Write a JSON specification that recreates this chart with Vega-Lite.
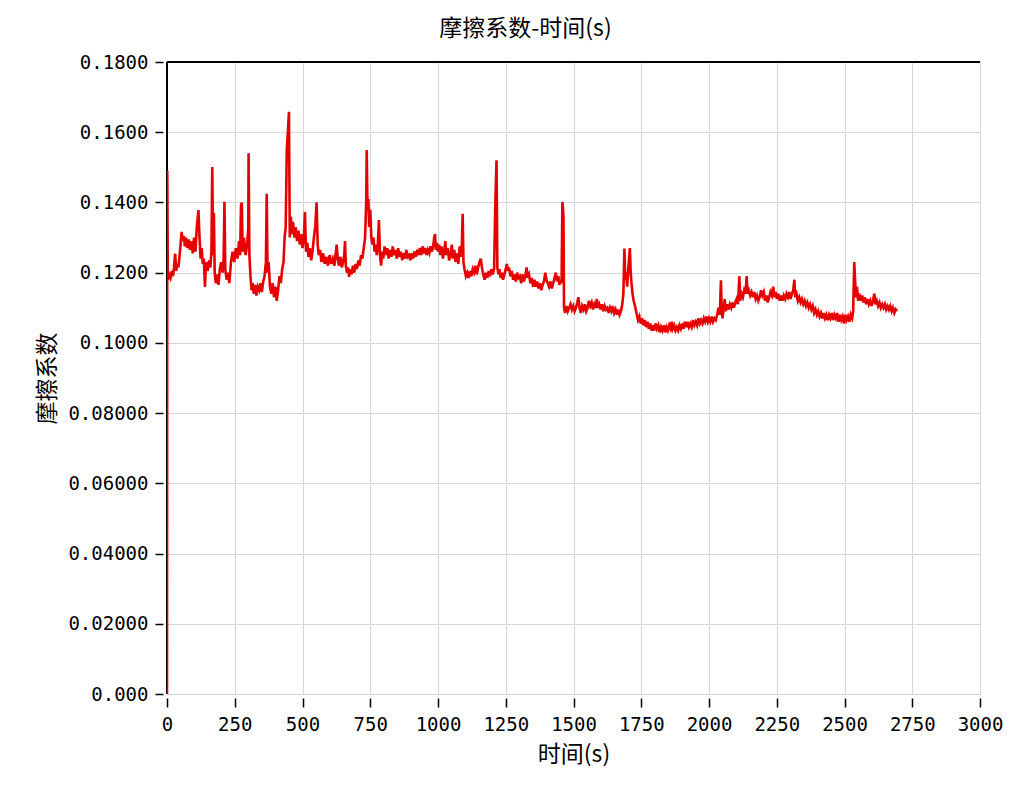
{
  "$schema": "https://vega.github.io/schema/vega-lite/v6.json",
  "autosize": {"type": "none"},
  "padding": {"left": 167, "top": 62, "right": 50, "bottom": 92},
  "width": 813,
  "height": 632,
  "background": "white",
  "title": {
    "text": "摩擦系数-时间(s)",
    "font": "Noto Sans CJK SC",
    "fontSize": 23,
    "fontWeight": "normal",
    "color": "black",
    "anchor": "middle",
    "dx": -48,
    "offset": 12
  },
  "data": {
    "values": [
      {"t": 0, "f": 0}, {"t": 1, "f": 0.149}, {"t": 3, "f": 0.118}, {"t": 8, "f": 0.1195}, {"t": 13, "f": 0.1185},
      {"t": 18, "f": 0.1205}, {"t": 22, "f": 0.119}, {"t": 26, "f": 0.1215}, {"t": 30, "f": 0.1254}, {"t": 34, "f": 0.1205},
      {"t": 38, "f": 0.1225}, {"t": 42, "f": 0.1215}, {"t": 46, "f": 0.1245}, {"t": 50, "f": 0.128}, {"t": 54, "f": 0.1316},
      {"t": 58, "f": 0.129}, {"t": 62, "f": 0.1305}, {"t": 66, "f": 0.1275}, {"t": 70, "f": 0.13}, {"t": 75, "f": 0.127},
      {"t": 80, "f": 0.1295}, {"t": 85, "f": 0.1265}, {"t": 90, "f": 0.129}, {"t": 95, "f": 0.1255}, {"t": 100, "f": 0.13},
      {"t": 105, "f": 0.126}, {"t": 110, "f": 0.133}, {"t": 116, "f": 0.1378}, {"t": 120, "f": 0.13}, {"t": 124, "f": 0.124},
      {"t": 128, "f": 0.127}, {"t": 132, "f": 0.1225}, {"t": 136, "f": 0.124}, {"t": 140, "f": 0.1159}, {"t": 144, "f": 0.123},
      {"t": 150, "f": 0.1205}, {"t": 155, "f": 0.1235}, {"t": 160, "f": 0.1215}, {"t": 164, "f": 0.126}, {"t": 167, "f": 0.1501},
      {"t": 170, "f": 0.125}, {"t": 173, "f": 0.137}, {"t": 176, "f": 0.12}, {"t": 180, "f": 0.117}, {"t": 185, "f": 0.1195},
      {"t": 190, "f": 0.1165}, {"t": 195, "f": 0.121}, {"t": 200, "f": 0.123}, {"t": 205, "f": 0.12}, {"t": 209, "f": 0.124},
      {"t": 212, "f": 0.1402}, {"t": 215, "f": 0.121}, {"t": 220, "f": 0.118}, {"t": 225, "f": 0.12}, {"t": 230, "f": 0.117},
      {"t": 236, "f": 0.123}, {"t": 242, "f": 0.126}, {"t": 248, "f": 0.123}, {"t": 254, "f": 0.127}, {"t": 260, "f": 0.124},
      {"t": 266, "f": 0.129}, {"t": 270, "f": 0.125}, {"t": 273, "f": 0.139}, {"t": 276, "f": 0.14}, {"t": 279, "f": 0.126},
      {"t": 284, "f": 0.13}, {"t": 290, "f": 0.125}, {"t": 296, "f": 0.128}, {"t": 300, "f": 0.133}, {"t": 301, "f": 0.154},
      {"t": 304, "f": 0.125}, {"t": 308, "f": 0.119}, {"t": 312, "f": 0.115}, {"t": 316, "f": 0.117}, {"t": 320, "f": 0.114},
      {"t": 325, "f": 0.1165}, {"t": 330, "f": 0.1135}, {"t": 335, "f": 0.116}, {"t": 340, "f": 0.115}, {"t": 345, "f": 0.117},
      {"t": 350, "f": 0.1145}, {"t": 355, "f": 0.1175}, {"t": 360, "f": 0.119}, {"t": 365, "f": 0.123}, {"t": 368, "f": 0.1425},
      {"t": 371, "f": 0.12}, {"t": 375, "f": 0.123}, {"t": 380, "f": 0.116}, {"t": 385, "f": 0.114}, {"t": 390, "f": 0.117},
      {"t": 395, "f": 0.113}, {"t": 400, "f": 0.116}, {"t": 405, "f": 0.112}, {"t": 410, "f": 0.115}, {"t": 415, "f": 0.119},
      {"t": 420, "f": 0.117}, {"t": 425, "f": 0.121}, {"t": 430, "f": 0.123}, {"t": 434, "f": 0.13}, {"t": 438, "f": 0.133},
      {"t": 442, "f": 0.155}, {"t": 446, "f": 0.16}, {"t": 450, "f": 0.1658}, {"t": 453, "f": 0.13}, {"t": 457, "f": 0.136},
      {"t": 461, "f": 0.131}, {"t": 465, "f": 0.1345}, {"t": 470, "f": 0.13}, {"t": 475, "f": 0.133}, {"t": 480, "f": 0.129},
      {"t": 485, "f": 0.132}, {"t": 490, "f": 0.128}, {"t": 495, "f": 0.131}, {"t": 500, "f": 0.127}, {"t": 505, "f": 0.13},
      {"t": 509, "f": 0.1373}, {"t": 513, "f": 0.126}, {"t": 518, "f": 0.1285}, {"t": 522, "f": 0.1245}, {"t": 527, "f": 0.127},
      {"t": 532, "f": 0.1235}, {"t": 537, "f": 0.126}, {"t": 542, "f": 0.13}, {"t": 547, "f": 0.133}, {"t": 552, "f": 0.14},
      {"t": 556, "f": 0.128}, {"t": 560, "f": 0.125}, {"t": 565, "f": 0.1265}, {"t": 570, "f": 0.123}, {"t": 576, "f": 0.1255},
      {"t": 582, "f": 0.1225}, {"t": 588, "f": 0.1245}, {"t": 594, "f": 0.122}, {"t": 600, "f": 0.125}, {"t": 606, "f": 0.1225},
      {"t": 612, "f": 0.124}, {"t": 618, "f": 0.122}, {"t": 622, "f": 0.125}, {"t": 626, "f": 0.128}, {"t": 630, "f": 0.124},
      {"t": 635, "f": 0.122}, {"t": 640, "f": 0.1245}, {"t": 645, "f": 0.1215}, {"t": 650, "f": 0.123}, {"t": 654, "f": 0.125},
      {"t": 657, "f": 0.129}, {"t": 660, "f": 0.122}, {"t": 664, "f": 0.12}, {"t": 668, "f": 0.1215}, {"t": 672, "f": 0.1188},
      {"t": 676, "f": 0.121}, {"t": 681, "f": 0.1195}, {"t": 686, "f": 0.122}, {"t": 691, "f": 0.12}, {"t": 696, "f": 0.1225},
      {"t": 701, "f": 0.121}, {"t": 706, "f": 0.1235}, {"t": 711, "f": 0.122}, {"t": 716, "f": 0.125}, {"t": 721, "f": 0.124},
      {"t": 726, "f": 0.127}, {"t": 731, "f": 0.13}, {"t": 735, "f": 0.14}, {"t": 737, "f": 0.1549}, {"t": 740, "f": 0.138},
      {"t": 743, "f": 0.141}, {"t": 746, "f": 0.133}, {"t": 750, "f": 0.138}, {"t": 754, "f": 0.13}, {"t": 758, "f": 0.128},
      {"t": 762, "f": 0.13}, {"t": 766, "f": 0.126}, {"t": 770, "f": 0.128}, {"t": 774, "f": 0.125}, {"t": 778, "f": 0.128},
      {"t": 782, "f": 0.135}, {"t": 786, "f": 0.125}, {"t": 790, "f": 0.122}, {"t": 794, "f": 0.126}, {"t": 798, "f": 0.124},
      {"t": 803, "f": 0.1275}, {"t": 808, "f": 0.125}, {"t": 813, "f": 0.127}, {"t": 818, "f": 0.124}, {"t": 823, "f": 0.1265},
      {"t": 828, "f": 0.1245}, {"t": 833, "f": 0.1275}, {"t": 838, "f": 0.125}, {"t": 843, "f": 0.1265}, {"t": 848, "f": 0.124},
      {"t": 853, "f": 0.127}, {"t": 858, "f": 0.1245}, {"t": 863, "f": 0.126}, {"t": 868, "f": 0.1235}, {"t": 873, "f": 0.1255},
      {"t": 878, "f": 0.124}, {"t": 883, "f": 0.1265}, {"t": 888, "f": 0.1245}, {"t": 893, "f": 0.125}, {"t": 898, "f": 0.1235},
      {"t": 903, "f": 0.1255}, {"t": 908, "f": 0.124}, {"t": 913, "f": 0.126}, {"t": 918, "f": 0.1245}, {"t": 923, "f": 0.1265},
      {"t": 928, "f": 0.125}, {"t": 933, "f": 0.127}, {"t": 938, "f": 0.125}, {"t": 943, "f": 0.1275}, {"t": 948, "f": 0.1255},
      {"t": 953, "f": 0.127}, {"t": 958, "f": 0.125}, {"t": 963, "f": 0.1265}, {"t": 968, "f": 0.1255}, {"t": 973, "f": 0.1275},
      {"t": 978, "f": 0.126}, {"t": 983, "f": 0.128}, {"t": 986, "f": 0.13}, {"t": 989, "f": 0.131}, {"t": 992, "f": 0.1265},
      {"t": 996, "f": 0.1285}, {"t": 1000, "f": 0.126}, {"t": 1004, "f": 0.128}, {"t": 1008, "f": 0.125}, {"t": 1013, "f": 0.1275},
      {"t": 1018, "f": 0.124}, {"t": 1023, "f": 0.126}, {"t": 1027, "f": 0.129}, {"t": 1031, "f": 0.125}, {"t": 1036, "f": 0.127},
      {"t": 1041, "f": 0.1235}, {"t": 1046, "f": 0.125}, {"t": 1051, "f": 0.128}, {"t": 1055, "f": 0.124}, {"t": 1060, "f": 0.1265},
      {"t": 1065, "f": 0.123}, {"t": 1070, "f": 0.1255}, {"t": 1075, "f": 0.1225}, {"t": 1080, "f": 0.1275}, {"t": 1085, "f": 0.1245},
      {"t": 1088, "f": 0.128}, {"t": 1091, "f": 0.1368}, {"t": 1094, "f": 0.123}, {"t": 1098, "f": 0.121}, {"t": 1103, "f": 0.119},
      {"t": 1108, "f": 0.12}, {"t": 1113, "f": 0.1185}, {"t": 1118, "f": 0.1205}, {"t": 1123, "f": 0.119}, {"t": 1128, "f": 0.121},
      {"t": 1133, "f": 0.12}, {"t": 1138, "f": 0.122}, {"t": 1143, "f": 0.1195}, {"t": 1148, "f": 0.1215}, {"t": 1153, "f": 0.123},
      {"t": 1158, "f": 0.124}, {"t": 1162, "f": 0.1215}, {"t": 1167, "f": 0.1195}, {"t": 1172, "f": 0.118}, {"t": 1177, "f": 0.12},
      {"t": 1182, "f": 0.1185}, {"t": 1187, "f": 0.1205}, {"t": 1192, "f": 0.119}, {"t": 1197, "f": 0.121}, {"t": 1202, "f": 0.1195},
      {"t": 1207, "f": 0.121}, {"t": 1212, "f": 0.141}, {"t": 1216, "f": 0.152}, {"t": 1219, "f": 0.1215}, {"t": 1223, "f": 0.1195},
      {"t": 1227, "f": 0.121}, {"t": 1231, "f": 0.1185}, {"t": 1236, "f": 0.12}, {"t": 1240, "f": 0.118}, {"t": 1245, "f": 0.1195},
      {"t": 1250, "f": 0.121}, {"t": 1254, "f": 0.1225}, {"t": 1258, "f": 0.1205}, {"t": 1262, "f": 0.1215}, {"t": 1267, "f": 0.119},
      {"t": 1272, "f": 0.1205}, {"t": 1277, "f": 0.118}, {"t": 1282, "f": 0.1195}, {"t": 1287, "f": 0.1175}, {"t": 1292, "f": 0.12},
      {"t": 1297, "f": 0.1185}, {"t": 1302, "f": 0.119}, {"t": 1307, "f": 0.117}, {"t": 1312, "f": 0.1195}, {"t": 1317, "f": 0.1175},
      {"t": 1322, "f": 0.119}, {"t": 1327, "f": 0.1215}, {"t": 1331, "f": 0.1185}, {"t": 1336, "f": 0.1195}, {"t": 1341, "f": 0.117},
      {"t": 1346, "f": 0.1185}, {"t": 1351, "f": 0.116}, {"t": 1356, "f": 0.118}, {"t": 1361, "f": 0.116}, {"t": 1366, "f": 0.1175},
      {"t": 1371, "f": 0.1155}, {"t": 1376, "f": 0.117}, {"t": 1381, "f": 0.115}, {"t": 1386, "f": 0.1165}, {"t": 1391, "f": 0.1175},
      {"t": 1396, "f": 0.12}, {"t": 1400, "f": 0.118}, {"t": 1405, "f": 0.117}, {"t": 1410, "f": 0.116}, {"t": 1415, "f": 0.1175},
      {"t": 1420, "f": 0.1155}, {"t": 1425, "f": 0.117}, {"t": 1430, "f": 0.1185}, {"t": 1435, "f": 0.12}, {"t": 1439, "f": 0.1175},
      {"t": 1444, "f": 0.119}, {"t": 1448, "f": 0.1165}, {"t": 1452, "f": 0.118}, {"t": 1456, "f": 0.117}, {"t": 1459, "f": 0.1401},
      {"t": 1461, "f": 0.1385}, {"t": 1463, "f": 0.136}, {"t": 1465, "f": 0.11}, {"t": 1469, "f": 0.1085}, {"t": 1474, "f": 0.1105},
      {"t": 1479, "f": 0.109}, {"t": 1484, "f": 0.11}, {"t": 1489, "f": 0.111}, {"t": 1494, "f": 0.1095}, {"t": 1499, "f": 0.1105},
      {"t": 1504, "f": 0.109}, {"t": 1509, "f": 0.11}, {"t": 1514, "f": 0.1115}, {"t": 1518, "f": 0.113}, {"t": 1522, "f": 0.11},
      {"t": 1527, "f": 0.1085}, {"t": 1532, "f": 0.1105}, {"t": 1537, "f": 0.1095}, {"t": 1542, "f": 0.111}, {"t": 1547, "f": 0.109},
      {"t": 1552, "f": 0.11}, {"t": 1557, "f": 0.112}, {"t": 1562, "f": 0.1105}, {"t": 1567, "f": 0.1115}, {"t": 1572, "f": 0.1095},
      {"t": 1577, "f": 0.111}, {"t": 1582, "f": 0.11}, {"t": 1586, "f": 0.1125}, {"t": 1590, "f": 0.11}, {"t": 1595, "f": 0.111},
      {"t": 1600, "f": 0.1095}, {"t": 1605, "f": 0.111}, {"t": 1610, "f": 0.109}, {"t": 1615, "f": 0.1105}, {"t": 1620, "f": 0.1095},
      {"t": 1625, "f": 0.11}, {"t": 1630, "f": 0.1085}, {"t": 1635, "f": 0.11}, {"t": 1640, "f": 0.109}, {"t": 1645, "f": 0.1105},
      {"t": 1650, "f": 0.1085}, {"t": 1655, "f": 0.1095}, {"t": 1660, "f": 0.108}, {"t": 1665, "f": 0.1095}, {"t": 1670, "f": 0.108},
      {"t": 1675, "f": 0.109}, {"t": 1680, "f": 0.111}, {"t": 1684, "f": 0.114}, {"t": 1688, "f": 0.1269}, {"t": 1691, "f": 0.118},
      {"t": 1694, "f": 0.12}, {"t": 1698, "f": 0.116}, {"t": 1702, "f": 0.121}, {"t": 1705, "f": 0.124}, {"t": 1708, "f": 0.127},
      {"t": 1711, "f": 0.12}, {"t": 1714, "f": 0.117}, {"t": 1718, "f": 0.114}, {"t": 1722, "f": 0.112}, {"t": 1727, "f": 0.1105},
      {"t": 1733, "f": 0.1083}, {"t": 1738, "f": 0.1065}, {"t": 1743, "f": 0.1075}, {"t": 1748, "f": 0.1055}, {"t": 1753, "f": 0.107},
      {"t": 1758, "f": 0.105}, {"t": 1763, "f": 0.1065}, {"t": 1768, "f": 0.1045}, {"t": 1773, "f": 0.106}, {"t": 1778, "f": 0.104},
      {"t": 1783, "f": 0.1055}, {"t": 1788, "f": 0.1035}, {"t": 1793, "f": 0.105}, {"t": 1798, "f": 0.1035}, {"t": 1803, "f": 0.1055},
      {"t": 1808, "f": 0.104}, {"t": 1813, "f": 0.105}, {"t": 1818, "f": 0.103}, {"t": 1823, "f": 0.1045}, {"t": 1828, "f": 0.1035},
      {"t": 1833, "f": 0.105}, {"t": 1838, "f": 0.103}, {"t": 1843, "f": 0.1045}, {"t": 1848, "f": 0.1035}, {"t": 1853, "f": 0.105},
      {"t": 1858, "f": 0.104}, {"t": 1862, "f": 0.106}, {"t": 1866, "f": 0.104}, {"t": 1871, "f": 0.105}, {"t": 1876, "f": 0.1035},
      {"t": 1881, "f": 0.1045}, {"t": 1886, "f": 0.1035}, {"t": 1891, "f": 0.105}, {"t": 1896, "f": 0.104}, {"t": 1901, "f": 0.1055},
      {"t": 1906, "f": 0.104}, {"t": 1911, "f": 0.106}, {"t": 1916, "f": 0.1045}, {"t": 1921, "f": 0.106}, {"t": 1926, "f": 0.1045},
      {"t": 1931, "f": 0.1055}, {"t": 1936, "f": 0.1045}, {"t": 1941, "f": 0.1065}, {"t": 1946, "f": 0.105}, {"t": 1951, "f": 0.106},
      {"t": 1956, "f": 0.105}, {"t": 1961, "f": 0.107}, {"t": 1966, "f": 0.1055}, {"t": 1971, "f": 0.1065}, {"t": 1976, "f": 0.1055},
      {"t": 1981, "f": 0.107}, {"t": 1986, "f": 0.106}, {"t": 1991, "f": 0.1075}, {"t": 1996, "f": 0.106}, {"t": 2000, "f": 0.107},
      {"t": 2005, "f": 0.106}, {"t": 2010, "f": 0.1075}, {"t": 2015, "f": 0.106}, {"t": 2020, "f": 0.107}, {"t": 2025, "f": 0.1065},
      {"t": 2030, "f": 0.108}, {"t": 2035, "f": 0.11}, {"t": 2040, "f": 0.108}, {"t": 2044, "f": 0.1178}, {"t": 2047, "f": 0.109},
      {"t": 2050, "f": 0.107}, {"t": 2054, "f": 0.11}, {"t": 2058, "f": 0.1125}, {"t": 2062, "f": 0.109}, {"t": 2067, "f": 0.111},
      {"t": 2072, "f": 0.1095}, {"t": 2077, "f": 0.111}, {"t": 2082, "f": 0.11}, {"t": 2087, "f": 0.1115}, {"t": 2092, "f": 0.11},
      {"t": 2097, "f": 0.1115}, {"t": 2102, "f": 0.1125}, {"t": 2107, "f": 0.111}, {"t": 2112, "f": 0.119}, {"t": 2115, "f": 0.112},
      {"t": 2120, "f": 0.114}, {"t": 2125, "f": 0.113}, {"t": 2130, "f": 0.115}, {"t": 2135, "f": 0.114}, {"t": 2139, "f": 0.119},
      {"t": 2142, "f": 0.114}, {"t": 2147, "f": 0.115}, {"t": 2152, "f": 0.1135}, {"t": 2157, "f": 0.1145}, {"t": 2162, "f": 0.113},
      {"t": 2167, "f": 0.1145}, {"t": 2172, "f": 0.1125}, {"t": 2177, "f": 0.1135}, {"t": 2182, "f": 0.112}, {"t": 2187, "f": 0.113},
      {"t": 2192, "f": 0.115}, {"t": 2197, "f": 0.1135}, {"t": 2202, "f": 0.1145}, {"t": 2207, "f": 0.112}, {"t": 2212, "f": 0.1135},
      {"t": 2217, "f": 0.1115}, {"t": 2222, "f": 0.113}, {"t": 2227, "f": 0.1145}, {"t": 2232, "f": 0.1135}, {"t": 2237, "f": 0.116},
      {"t": 2241, "f": 0.113}, {"t": 2246, "f": 0.1145}, {"t": 2251, "f": 0.1125}, {"t": 2256, "f": 0.114}, {"t": 2261, "f": 0.112},
      {"t": 2266, "f": 0.1135}, {"t": 2271, "f": 0.112}, {"t": 2276, "f": 0.1135}, {"t": 2281, "f": 0.1125}, {"t": 2286, "f": 0.114},
      {"t": 2291, "f": 0.113}, {"t": 2296, "f": 0.1145}, {"t": 2301, "f": 0.1125}, {"t": 2306, "f": 0.114}, {"t": 2311, "f": 0.115},
      {"t": 2315, "f": 0.118}, {"t": 2318, "f": 0.113}, {"t": 2323, "f": 0.114}, {"t": 2328, "f": 0.112}, {"t": 2333, "f": 0.113},
      {"t": 2338, "f": 0.1115}, {"t": 2343, "f": 0.1125}, {"t": 2348, "f": 0.111}, {"t": 2353, "f": 0.112}, {"t": 2358, "f": 0.1105},
      {"t": 2363, "f": 0.1115}, {"t": 2368, "f": 0.11}, {"t": 2373, "f": 0.111}, {"t": 2378, "f": 0.1095}, {"t": 2383, "f": 0.1105},
      {"t": 2388, "f": 0.1085}, {"t": 2393, "f": 0.1095}, {"t": 2398, "f": 0.108}, {"t": 2403, "f": 0.109}, {"t": 2408, "f": 0.1075},
      {"t": 2413, "f": 0.1085}, {"t": 2418, "f": 0.107}, {"t": 2423, "f": 0.1085}, {"t": 2428, "f": 0.107}, {"t": 2433, "f": 0.108},
      {"t": 2438, "f": 0.1065}, {"t": 2443, "f": 0.108}, {"t": 2448, "f": 0.107}, {"t": 2453, "f": 0.1085}, {"t": 2458, "f": 0.1065},
      {"t": 2463, "f": 0.108}, {"t": 2468, "f": 0.107}, {"t": 2473, "f": 0.1085}, {"t": 2478, "f": 0.106}, {"t": 2483, "f": 0.108},
      {"t": 2488, "f": 0.1065}, {"t": 2493, "f": 0.1075}, {"t": 2498, "f": 0.1055}, {"t": 2503, "f": 0.108}, {"t": 2508, "f": 0.1065},
      {"t": 2513, "f": 0.1075}, {"t": 2518, "f": 0.106}, {"t": 2523, "f": 0.108}, {"t": 2528, "f": 0.107}, {"t": 2532, "f": 0.109},
      {"t": 2536, "f": 0.123}, {"t": 2539, "f": 0.118}, {"t": 2542, "f": 0.113}, {"t": 2546, "f": 0.116}, {"t": 2550, "f": 0.112},
      {"t": 2555, "f": 0.114}, {"t": 2560, "f": 0.112}, {"t": 2565, "f": 0.1135}, {"t": 2570, "f": 0.1115}, {"t": 2575, "f": 0.113},
      {"t": 2580, "f": 0.111}, {"t": 2585, "f": 0.1125}, {"t": 2590, "f": 0.111}, {"t": 2595, "f": 0.112}, {"t": 2600, "f": 0.1105},
      {"t": 2605, "f": 0.112}, {"t": 2610, "f": 0.114}, {"t": 2614, "f": 0.111}, {"t": 2619, "f": 0.112}, {"t": 2624, "f": 0.1105},
      {"t": 2629, "f": 0.1115}, {"t": 2634, "f": 0.11}, {"t": 2639, "f": 0.111}, {"t": 2644, "f": 0.11}, {"t": 2649, "f": 0.111},
      {"t": 2654, "f": 0.1095}, {"t": 2659, "f": 0.1105}, {"t": 2664, "f": 0.1095}, {"t": 2669, "f": 0.1105}, {"t": 2674, "f": 0.109},
      {"t": 2679, "f": 0.11}, {"t": 2684, "f": 0.1085}, {"t": 2689, "f": 0.1095}, {"t": 2693, "f": 0.109}
    ]
  },
  "layer": [
    {
      "mark": {"type": "rule", "color": "black", "strokeWidth": 2},
      "encoding": {"y": {"datum": 0.18, "type": "quantitative"}}
    },
    {
      "mark": {"type": "rule", "color": "black", "strokeWidth": 2},
      "encoding": {"x": {"datum": 0, "type": "quantitative"}}
    },
    {
      "mark": {"type": "line", "color": "#e60000", "strokeWidth": 2.6, "clip": true},
      "encoding": {
        "x": {
          "field": "t",
          "type": "quantitative",
          "scale": {"domain": [0, 3000], "nice": false},
          "axis": {
            "title": "时间(s)",
            "values": [0, 250, 500, 750, 1000, 1250, 1500, 1750, 2000, 2250, 2500, 2750, 3000],
            "format": "d",
            "labelOverlap": false,
            "labelFlush": false,
            "offset": 4,
            "tickSize": 9,
            "labelPadding": 8,
            "titlePadding": 9
          }
        },
        "y": {
          "field": "f",
          "type": "quantitative",
          "scale": {"domain": [0, 0.18], "nice": false},
          "axis": {
            "title": "摩擦系数",
            "values": [0, 0.02, 0.04, 0.06, 0.08, 0.1, 0.12, 0.14, 0.16, 0.18],
            "labelExpr": "datum.value == 0 ? '0.000' : (datum.value >= 0.099 ? format(datum.value, '.4f') : format(datum.value, '.5f'))",
            "labelOverlap": false,
            "labelFlush": false,
            "offset": 4,
            "tickSize": 8,
            "labelPadding": 7,
            "titlePadding": 8
          }
        }
      }
    }
  ],
  "config": {
    "view": {"stroke": "#555", "strokeWidth": 1},
    "axis": {
      "domain": false,
      "grid": true,
      "gridColor": "#d4d7de",
      "gridWidth": 1,
      "tickColor": "black",
      "tickWidth": 1.5,
      "labelFont": "DejaVu Sans Mono",
      "labelFontSize": 19,
      "labelColor": "black",
      "titleFont": "Noto Sans CJK SC",
      "titleFontSize": 23,
      "titleFontWeight": "normal",
      "titleColor": "black"
    }
  }
}
